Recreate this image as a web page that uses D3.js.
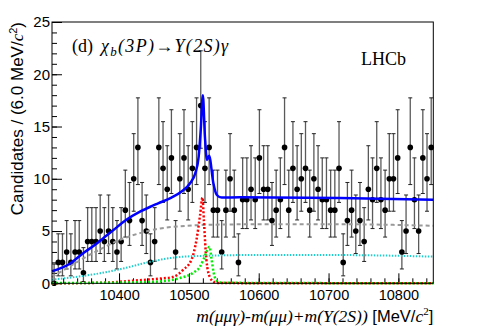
<!DOCTYPE html>
<html>
<head>
<meta charset="utf-8">
<script src="https://cdn.jsdelivr.net/npm/d3@7"></script>
<style>
  body { margin: 0; background: #fff; }
  svg { display: block; }
  .axis path { display: none; }
  .axis line { stroke: #000; }
  .axis text { font-family: "Liberation Sans", Arial, sans-serif; font-size: 15px; fill: #000; }
  .xaxis text { font-size: 14.5px; }
</style>
</head>
<body>
<svg id="chart"></svg>
<script>
// histogram: 6 MeV bins starting at 10304
const massLo = 10304, massHi = 10850, binWidth = 6;
const counts = [0, 2, 2, 3, 2, 3, 3, 1, 4, 4, 4, 5, 4, 5, 4, 3, 4, 7, 6, 10,
                13, 6, 5, 2, 4, 13, 11, 9, 12, 3, 10, 12, 9, 11, 13, 17, 11, 13, 7, 7,
                3, 7, 10, 7, 2, 8, 8, 9, 8, 12, 9, 9, 6, 7, 8, 13, 7, 11, 9, 10,
                11, 7, 10, 9, 8, 8, 7, 7, 11, 2, 6, 7, 5, 6, 4, 9, 8, 11, 8, 7,
                10, 10, 12, 3, 5, 13, 8, 5, 12, 10, 13];

// fit components, [mass, candidates]
const totalFit = [[10304, 1.15], [10330, 1.9], [10349, 2.9], [10368, 3.8], [10377, 4.3],
  [10392, 5.1], [10411, 6.1], [10430, 6.85], [10444, 7.3], [10456, 7.65], [10475, 8.2],
  [10490, 8.8], [10502, 9.6], [10509, 10.5], [10514, 12.1], [10517, 14.7], [10520, 18.0],
  [10523, 14.0], [10526, 11.8], [10529, 12.2], [10535, 9.6], [10540, 8.45], [10547, 8.2],
  [10573, 8.23], [10716, 8.16], [10850, 8.0]];
const combBkg = [[10304, 0.6], [10323, 1.35], [10344, 2.2], [10373, 3.25], [10401, 4.15],
  [10430, 4.8], [10459, 5.25], [10487, 5.45], [10530, 5.6], [10602, 5.65], [10716, 5.65], [10850, 5.5]];
const otherBkg = [[10304, 0.35], [10337, 0.6], [10373, 0.96], [10408, 1.45], [10444, 2.05],
  [10484, 2.5], [10533, 2.65], [10580, 2.7], [10716, 2.7], [10850, 2.55]];
const sigJ1 = [[10304, 0], [10373, 0.05], [10430, 0.3], [10459, 0.45], [10477, 0.6], [10492, 1.3],
  [10504, 2.3], [10511, 4.2], [10516, 6.5], [10519.5, 8.2], [10521.5, 6.0], [10525, 2.3],
  [10530, 0.6], [10537, 0.1], [10545, 0.02], [10850, 0]];
const sigJ2 = [[10304, 0.02], [10430, 0.1], [10469, 0.25], [10487, 0.5], [10506, 1.0], [10516, 1.6],
  [10521, 2.3], [10526, 3.1], [10529.5, 3.5], [10532.5, 2.3], [10535.5, 1.0], [10540, 0.25],
  [10547, 0.05], [10850, 0]];

const xMajor = [10400, 10500, 10600, 10700, 10800];
const yMajor = [0, 5, 10, 15, 20, 25];

const W = 482, H = 326;
const frame = {left: 52, right: 433.3, top: 22, bottom: 283.3};

const svg = d3.select("#chart").attr("width", W).attr("height", H);

const x = d3.scaleLinear().domain([massLo, massHi]).range([frame.left, frame.right]);
const y = d3.scaleLinear().domain([0, 25]).range([frame.bottom, frame.top]);

// Poisson (Garwood) 68% interval, Gehrels approximation
function poissonLo(n) {
  if (n === 0) return 0;
  return n * Math.pow(1 - 1 / (9 * n) - 1 / (3 * Math.sqrt(n)), 3);
}
function poissonHi(n) {
  if (n === 0) return 1.841;
  return n + Math.sqrt(n + 1) + 1;
}

const bins = counts.map((n, i) => ({
  m: massLo + binWidth * (i + 0.5), n: n, lo: poissonLo(n), hi: poissonHi(n)
}));

// axes (ticks inside)
svg.append("g").attr("class", "axis")
  .attr("transform", `translate(${frame.left},0)`)
  .call(d3.axisLeft(y).tickValues(d3.range(0, 26, 1)).tickSize(-5).tickFormat(""));
svg.append("g").attr("class", "axis")
  .attr("transform", `translate(${frame.left},0)`)
  .call(d3.axisLeft(y).tickValues(yMajor).tickSize(-10).tickPadding(2));

svg.append("g").attr("class", "axis")
  .attr("transform", `translate(0,${frame.bottom})`)
  .call(d3.axisBottom(x).tickValues(d3.range(10320, 10850, 20)).tickSize(-5).tickFormat(""));
svg.append("g").attr("class", "axis xaxis")
  .attr("transform", `translate(0,${frame.bottom})`)
  .call(d3.axisBottom(x).tickValues(xMajor).tickSize(-10).tickPadding(6).tickFormat(d3.format("d")));

// data points with error bars
const pts = svg.append("g");
pts.selectAll("line.err").data(bins).join("line")
  .attr("class", "err")
  .attr("x1", d => x(d.m)).attr("x2", d => x(d.m))
  .attr("y1", d => y(d.lo)).attr("y2", d => y(d.hi))
  .attr("stroke", "#5a5a5a").attr("stroke-width", 1.3);
pts.selectAll("line.capHi").data(bins).join("line")
  .attr("class", "capHi")
  .attr("x1", d => x(d.m) - 2).attr("x2", d => x(d.m) + 2)
  .attr("y1", d => y(d.hi)).attr("y2", d => y(d.hi))
  .attr("stroke", "#222").attr("stroke-width", 1);
pts.selectAll("line.capLo").data(bins.filter(d => d.n > 0)).join("line")
  .attr("class", "capLo")
  .attr("x1", d => x(d.m) - 2).attr("x2", d => x(d.m) + 2)
  .attr("y1", d => y(d.lo)).attr("y2", d => y(d.lo))
  .attr("stroke", "#222").attr("stroke-width", 1);
pts.selectAll("circle").data(bins).join("circle")
  .attr("cx", d => x(d.m)).attr("cy", d => y(d.n)).attr("r", 2.8)
  .attr("fill", "#000");

// fit curves
const line = d3.line().x(d => x(d[0])).y(d => y(d[1])).curve(d3.curveMonotoneX);
const curves = [
  {data: otherBkg, color: "#22cccc", width: 2, dash: "1.5,1.5"},
  {data: combBkg, color: "#999999", width: 2, dash: "4,3"},
  {data: sigJ1, color: "#ff0000", width: 2.5, dash: "2,2"},
  {data: sigJ2, color: "#00ee00", width: 2.5, dash: "2,2"},
  {data: totalFit, color: "#0000ff", width: 2.5, dash: null}
];
svg.append("g").selectAll("path").data(curves).join("path")
  .attr("d", d => line(d.data))
  .attr("fill", "none")
  .attr("stroke", d => d.color)
  .attr("stroke-width", d => d.width)
  .attr("stroke-dasharray", d => d.dash);

// frame
svg.append("rect")
  .attr("x", frame.left).attr("y", frame.top)
  .attr("width", frame.right - frame.left).attr("height", frame.bottom - frame.top)
  .attr("fill", "none").attr("stroke", "#000").attr("stroke-width", 1);

// labels
const serif = "'Liberation Serif', 'Times New Roman', serif";
const sans = "'Liberation Sans', Arial, sans-serif";

const title = svg.append("text")
  .attr("y", 52)
  .attr("font-family", serif).attr("font-size", 18);
title.append("tspan").attr("x", 72).text("(d)");
const tm = title.append("tspan").attr("x", 101).attr("font-style", "italic").attr("letter-spacing", 1.3);
tm.append("tspan").text("χ");
tm.append("tspan").attr("font-size", 13).attr("dy", 4).text("b");
tm.append("tspan").attr("dy", -4).text("(3P)");
tm.append("tspan").attr("font-style", "normal").text("→");
tm.append("tspan").text("Υ(2S)γ");

svg.append("text")
  .attr("x", 361).attr("y", 65)
  .attr("font-family", serif).attr("font-size", 18)
  .text("LHCb");

const xt = svg.append("text")
  .attr("x", frame.right).attr("y", 321.5)
  .attr("text-anchor", "end")
  .attr("font-family", serif).attr("font-size", 17.5);
xt.append("tspan").attr("font-style", "italic").text("m(μμγ)-m(μμ)+m(Υ(2S))");
xt.append("tspan").attr("font-family", sans).attr("font-size", 16.5).text(" [MeV/");
xt.append("tspan").attr("font-style", "italic").text("c");
xt.append("tspan").attr("font-size", 11).attr("dy", -7).text("2");
xt.append("tspan").attr("font-family", sans).attr("font-size", 16.5).attr("dy", 7).text("]");

const yt = svg.append("text")
  .attr("transform", `translate(23,${frame.top}) rotate(-90)`)
  .attr("text-anchor", "end")
  .attr("font-family", sans).attr("font-size", 17);
yt.append("tspan").text("Candidates / (6.0 MeV/");
yt.append("tspan").attr("font-family", serif).attr("font-style", "italic").text("c");
yt.append("tspan").attr("font-size", 11).attr("dy", -6).text("2");
yt.append("tspan").attr("dy", 6).text(")");
</script>
</body>
</html>
